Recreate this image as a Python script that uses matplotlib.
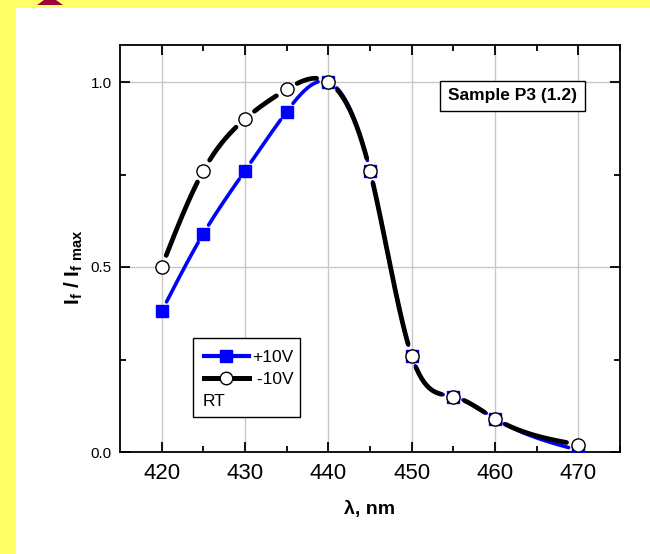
import numpy as np
import matplotlib
matplotlib.use("Agg")
import matplotlib.pyplot as plt
from matplotlib.patches import Rectangle, Polygon
from matplotlib.lines import Line2D

plt.rcParams['font.family'] = ['Liberation Sans', 'DejaVu Sans']
plt.rcParams['mathtext.fontset'] = 'custom'
plt.rcParams['mathtext.rm'] = 'Liberation Sans'
plt.rcParams['mathtext.bf'] = 'Liberation Sans:bold'

# --- data ---
wavelength = [420, 425, 430, 435, 440, 445, 450, 455, 460, 470]
plus10V = [0.38, 0.59, 0.76, 0.92, 1.00, 0.76, 0.26, 0.15, 0.09, 0.005]
minus10V = [0.50, 0.76, 0.90, 0.98, 1.00, 0.76, 0.26, 0.15, 0.09, 0.02]
x_ticks = [420, 430, 440, 450, 460, 470]
y_ticks = [0.0, 0.5, 1.0]
sample_label = "Sample P3 (1.2)"


def natural_spline(x, y, xs):
    x = np.asarray(x, float)
    y = np.asarray(y, float)
    n = len(x)
    h = np.diff(x)
    A = np.zeros((n, n))
    r = np.zeros(n)
    A[0, 0] = A[-1, -1] = 1.0
    for i in range(1, n - 1):
        A[i, i - 1] = h[i - 1]
        A[i, i] = 2 * (h[i - 1] + h[i])
        A[i, i + 1] = h[i]
        r[i] = 3 * ((y[i + 1] - y[i]) / h[i] - (y[i] - y[i - 1]) / h[i - 1])
    c = np.linalg.solve(A, r)
    b = (y[1:] - y[:-1]) / h - h * (2 * c[:-1] + c[1:]) / 3
    d = (c[1:] - c[:-1]) / (3 * h)
    idx = np.clip(np.searchsorted(x, xs, side='right') - 1, 0, n - 2)
    dx = xs - x[idx]
    return y[idx] + b[idx] * dx + c[idx] * dx ** 2 + d[idx] * dx ** 3


def gapped_curve(ax, x, y, gap_px):
    # smooth curve with small gaps around each marker (Origin style)
    xs = np.linspace(x[0], x[-1], 1200)
    ys = natural_spline(x, y, xs)
    curve = ax.transData.transform(np.column_stack([xs, ys]))
    pts = ax.transData.transform(np.column_stack([x, y]))
    dist = np.min(np.hypot(curve[:, None, 0] - pts[None, :, 0],
                           curve[:, None, 1] - pts[None, :, 1]), axis=1)
    ys = ys.copy()
    ys[dist < gap_px] = np.nan
    return xs, ys


fig = plt.figure(figsize=(6.5, 5.54), dpi=100)
fig.patch.set_facecolor('#FFFF66')
W, H = 650, 554
fig.patches.append(Rectangle((16 / W, 0), 1, (H - 8) / H, transform=fig.transFigure,
                             facecolor='white', edgecolor='none', zorder=-2))
fig.patches.append(Polygon([(37 / W, (H - 5) / H), (63 / W, (H - 5) / H),
                            (56 / W, 1), (44 / W, 1)], closed=True,
                           transform=fig.transFigure, facecolor='#A0003C',
                           edgecolor='none', zorder=-1))

ax = fig.add_axes([120 / W, (H - 452) / H, 500 / W, 407 / H])
ax.set_zorder(2)
ax.set_facecolor('white')
ax.set_xlim(415, 475)
ax.set_ylim(0, 1.1)

bx, by = gapped_curve(ax, wavelength, plus10V, 10)
kx, ky = gapped_curve(ax, wavelength, minus10V, 12)

ax.plot(bx, by, color='#0000FF', lw=2.6, solid_capstyle='round', zorder=3)
ax.plot(wavelength, plus10V, ls='none', marker='s', ms=8, color='#0000FF',
        mec='#0000FF', zorder=4)
ax.plot(kx, ky, color='black', lw=3.4, solid_capstyle='round', zorder=5)
ax.plot(wavelength, minus10V, ls='none', marker='o', ms=9.5, mfc='white',
        mec='black', mew=1.0, zorder=6)

ax.set_xticks(x_ticks)
ax.set_xticks([425, 435, 445, 455, 465, 475], minor=True)
ax.set_yticks(y_ticks)
ax.set_yticklabels([f"{v:.1f}" for v in y_ticks])
ax.set_yticks([0.25, 0.75], minor=True)
ax.tick_params(which='both', direction='in', top=True, right=True, color='black')
ax.tick_params(which='major', length=7, width=1.3)
ax.tick_params(which='minor', length=4, width=1.3)
ax.tick_params(axis='x', labelsize=16, pad=8, labeltop=False)
ax.tick_params(axis='y', labelsize=11, pad=6, labelright=False)
ax.grid(True, which='major', color='#C8C8C8', lw=1.0, zorder=0)
for s in ax.spines.values():
    s.set_linewidth(1.3)

ax.set_xlabel("λ, nm", fontsize=14, fontweight='bold')
ax.xaxis.set_label_coords(0.5, -0.12)
ax.set_ylabel(r"I$_\mathbf{f}$ / I$_\mathbf{f\ max}$", fontsize=15,
              fontweight='bold')
ax.yaxis.set_label_coords(-0.07, 0.455)

ax.text(0.785, 0.875, sample_label, transform=ax.transAxes, ha='center',
        va='center', fontsize=12.5, fontweight='bold', zorder=7,
        bbox=dict(boxstyle='square,pad=0.45', facecolor='white',
                  edgecolor='black', lw=1.0))

handles = [Line2D([], [], color='#0000FF', lw=3, marker='s', ms=8),
           Line2D([], [], color='black', lw=3.6, marker='o', ms=9, mfc='white',
                  mec='black')]
leg = ax.legend(handles, ['+10V', ' -10V'], loc='upper left',
                bbox_to_anchor=(0.14, 0.285), frameon=False, fontsize=12.5,
                handlelength=2.6, handletextpad=0.2, labelspacing=0.4,
                borderpad=0.3)
leg.set_zorder(8)
ax.text(0.165, 0.125, "RT", transform=ax.transAxes, fontsize=12.5, va='center',
        zorder=8)
ax.add_patch(Rectangle((0.146, 0.085), 0.214, 0.194, transform=ax.transAxes,
                       facecolor='white', edgecolor='black', lw=1.0, zorder=7))

fig.savefig("out.png", dpi=100, facecolor=fig.get_facecolor())
